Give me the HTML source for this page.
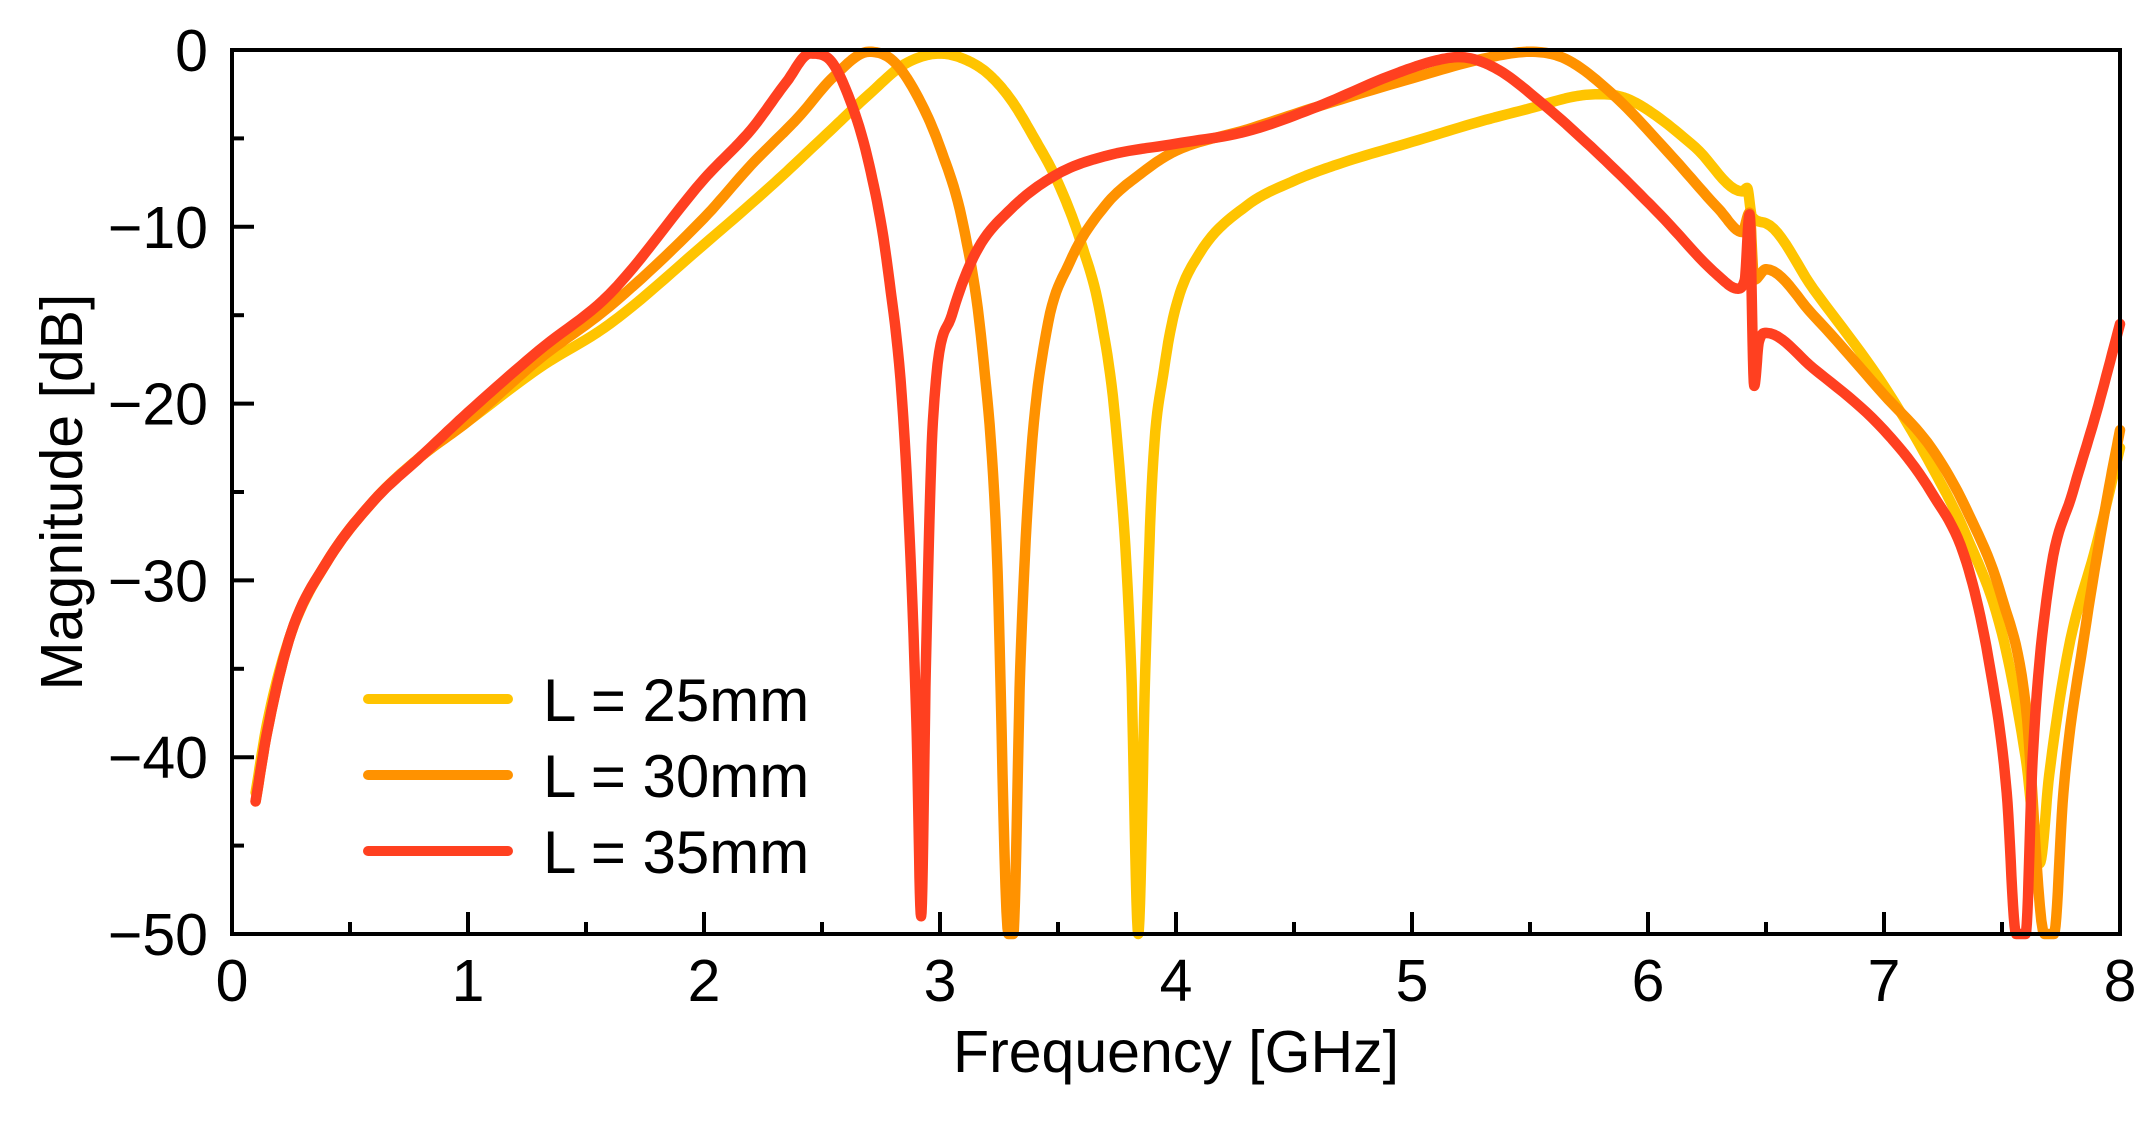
<!DOCTYPE html>
<html><head><meta charset="utf-8"><style>
html,body{margin:0;padding:0;background:#fff;}
svg{display:block;}
text{font-family:"Liberation Sans",sans-serif;fill:#000;}
</style></head><body>
<svg id="s" width="2152" height="1142" viewBox="0 0 2152 1142" xmlns="http://www.w3.org/2000/svg">
<g id="curves" fill="none" stroke-width="10.5" stroke-linejoin="round" stroke-linecap="round"></g>
<rect x="232" y="50" width="1888" height="884" fill="none" stroke="#000" stroke-width="4"/>
<g id="ticks" stroke="#000" stroke-width="4"></g>
<g font-size="59" text-anchor="middle" id="xl"></g>
<g font-size="59" text-anchor="end" id="yl"></g>
<text x="1176" y="1072" font-size="59" text-anchor="middle">Frequency [GHz]</text>
<text transform="translate(82,492) rotate(-90)" font-size="59" text-anchor="middle">Magnitude [dB]</text>
<g stroke-width="10" stroke-linecap="round">
<line x1="368" y1="699" x2="508" y2="699" stroke="#FFC400"/>
<line x1="368" y1="775" x2="508" y2="775" stroke="#FF9200"/>
<line x1="368" y1="851" x2="508" y2="851" stroke="#FF4020"/>
</g>
<g font-size="60">
<text x="543" y="721">L = 25mm</text>
<text x="543" y="797">L = 30mm</text>
<text x="543" y="873">L = 35mm</text>
</g>
</svg>
<script>
const X=f=>232+f*236, Y=d=>50-d*17.68;
const NS="http://www.w3.org/2000/svg";
const t=document.getElementById('ticks'),xl=document.getElementById('xl'),yl=document.getElementById('yl');
function el(p,n,a,txt){const e=document.createElementNS(NS,n);for(const k in a)e.setAttribute(k,a[k]);if(txt!==undefined)e.textContent=txt;p.appendChild(e);}
for(let i=0;i<=16;i++){const x=X(i/2),L=i%2?12:22;el(t,'line',{x1:x,y1:934,x2:x,y2:934-L});}
for(let i=0;i<=8;i++)el(xl,'text',{x:X(i),y:1001},String(i));
for(let i=0;i<=10;i++){const y=Y(-i*5),L=i%2?12:22;el(t,'line',{x1:232,y1:y,x2:232+L,y2:y});}
for(let i=0;i<=5;i++)el(yl,'text',{x:208,y:Y(-i*10)+21},i?'\u2212'+(i*10):'0');
const Yel=[[0.1,-42],[0.15,-38],[0.25,-33],[0.4,-29],[0.6,-25.5],[0.8,-23],[1,-21],[1.3,-18],[1.6,-15.5],[2,-11],[2.3,-7.5],[2.5,-5],[2.7,-2.5],[2.85,-0.8],[3,-0.2],[3.1,-0.5],[3.2,-1.3],[3.3,-2.8],[3.4,-5],[3.5,-7.5],[3.6,-11],[3.68,-15],[3.75,-22],[3.81,-35],[3.84,-50],[3.87,-35],[3.9,-24],[3.95,-18],[4,-14.5],[4.1,-11.5],[4.3,-8.8],[4.5,-7.4],[4.7,-6.4],[5,-5.2],[5.3,-4],[5.5,-3.3],[5.7,-2.6],[5.8,-2.5],[5.9,-2.7],[6,-3.4],[6.2,-5.5],[6.4,-8],[6.42,-7.8],[6.44,-9.4],[6.5,-9.8],[6.7,-13.5],[7,-19],[7.2,-23.5],[7.35,-27.5],[7.5,-33],[7.6,-40],[7.66,-46],[7.7,-41],[7.78,-34],[7.9,-28],[8,-22.5]];
const Org=[[0.1,-42.5],[0.15,-38.5],[0.25,-33],[0.4,-29],[0.6,-25.5],[0.8,-23],[1,-21],[1.3,-17.5],[1.6,-14.5],[2,-9.5],[2.2,-6.5],[2.4,-3.8],[2.55,-1.5],[2.7,-0.1],[2.8,-0.6],[2.9,-2.5],[3,-5.5],[3.1,-10],[3.18,-17],[3.24,-28],[3.29,-50],[3.31,-50],[3.34,-35],[3.38,-24],[3.45,-16],[3.55,-12],[3.7,-8.8],[3.85,-7],[4,-5.7],[4.3,-4.5],[4.6,-3.2],[5,-1.6],[5.3,-0.5],[5.5,-0.1],[5.65,-0.5],[5.85,-2.5],[6.1,-6],[6.3,-9],[6.4,-10.3],[6.43,-9.2],[6.45,-13],[6.5,-12.4],[6.7,-15],[7,-19.5],[7.2,-22.5],[7.35,-26],[7.5,-31],[7.6,-37],[7.68,-50],[7.72,-50],[7.76,-42],[7.85,-33],[7.95,-25],[8,-21.5]];
const Red=[[0.1,-42.5],[0.15,-38.5],[0.25,-33],[0.4,-29],[0.6,-25.5],[0.8,-23],[1,-20.5],[1.3,-17],[1.6,-13.8],[2,-7.3],[2.2,-4.5],[2.35,-1.8],[2.45,-0.2],[2.52,-0.4],[2.6,-2.2],[2.7,-6.5],[2.78,-12.5],[2.85,-22],[2.9,-38],[2.92,-49],[2.94,-35],[2.97,-21],[3.05,-15],[3.15,-11.5],[3.3,-9],[3.5,-7],[3.7,-6],[4,-5.3],[4.3,-4.6],[4.6,-3.2],[4.9,-1.5],[5.1,-0.6],[5.2,-0.4],[5.35,-1],[5.55,-3],[5.8,-6],[6.05,-9.3],[6.3,-12.8],[6.38,-13.5],[6.41,-13],[6.43,-9.3],[6.45,-19],[6.47,-16.5],[6.5,-16],[6.7,-18],[7,-21.5],[7.2,-25],[7.35,-29],[7.45,-35],[7.52,-42],[7.56,-50],[7.6,-50],[7.63,-40],[7.7,-30],[7.8,-25],[7.9,-20.5],[8,-15.5]];
function mono(p){const n=p.length,d=[],m=[];for(let i=0;i<n-1;i++)d.push((p[i+1][1]-p[i][1])/(p[i+1][0]-p[i][0]));
m[0]=d[0];m[n-1]=d[n-2];for(let i=1;i<n-1;i++){m[i]=d[i-1]*d[i]<=0?0:(d[i-1]+d[i])/2;}
for(let i=0;i<n-1;i++){if(d[i]===0){m[i]=m[i+1]=0;continue;}const a=m[i]/d[i],b=m[i+1]/d[i],s=a*a+b*b;if(s>9){const tt=3/Math.sqrt(s);m[i]=tt*a*d[i];m[i+1]=tt*b*d[i];}}
const out=[];for(let i=0;i<n-1;i++){const h=p[i+1][0]-p[i][0];for(let k=0;k<12;k++){const s=k/12,h00=2*s*s*s-3*s*s+1,h10=s*s*s-2*s*s+s,h01=-2*s*s*s+3*s*s,h11=s*s*s-s*s;
out.push([p[i][0]+s*h,h00*p[i][1]+h10*h*m[i]+h01*p[i+1][1]+h11*h*m[i+1]]);}}out.push(p[n-1]);return out;}
const g=document.getElementById('curves');
[[Yel,'#FFC400'],[Org,'#FF9200'],[Red,'#FF4020']].forEach(([p,c])=>{
 el(g,'polyline',{points:mono(p).map(q=>X(q[0]).toFixed(1)+','+Y(Math.max(q[1],-50)).toFixed(1)).join(' '),stroke:c});
});
</script>
</body></html>
